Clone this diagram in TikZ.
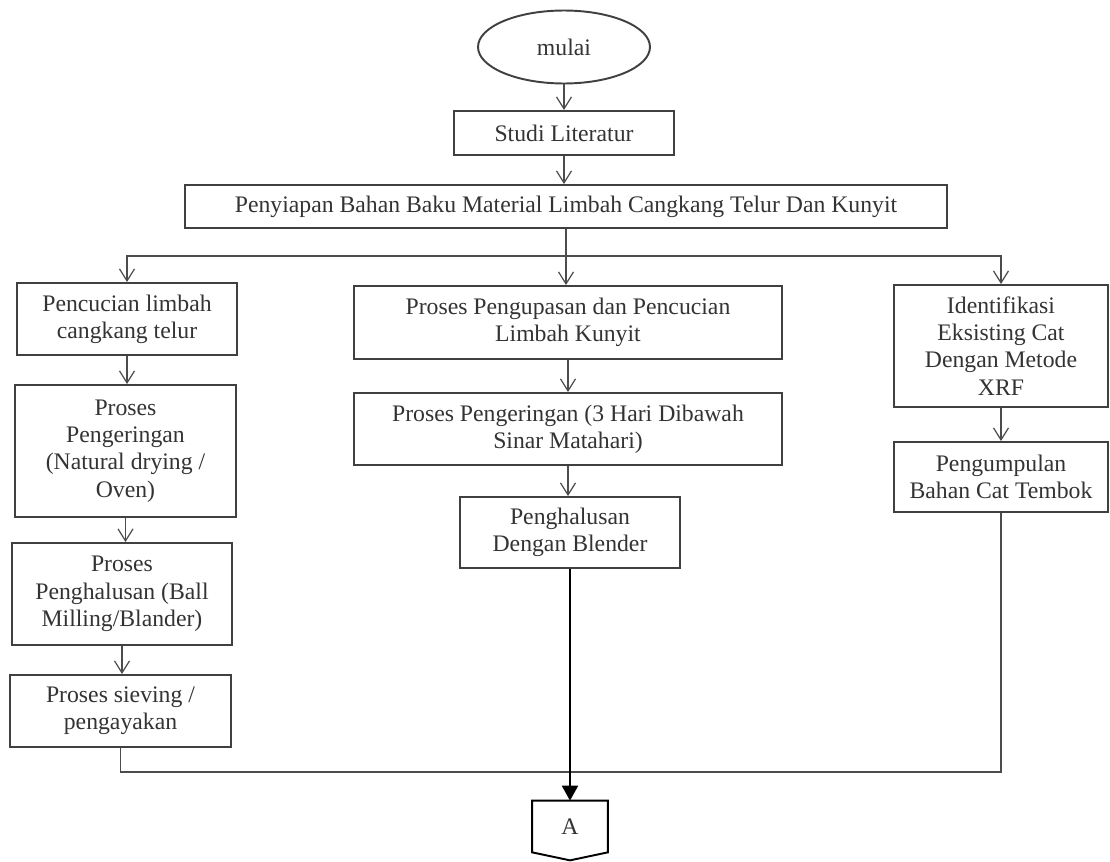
\documentclass[tikz,border=0pt]{standalone}
\usepackage{fontspec}
\setmainfont{Liberation Serif}
\usepackage{tikz}
\usetikzlibrary{arrows.meta,shapes.geometric,calc}

\begin{document}
\begin{tikzpicture}[x=0.02cm,y=-0.02cm,
  font=\fontsize{13.5}{15.5}\selectfont,text=black!80,
  box/.style={draw=black!75,line width=1.1pt,align=center,inner sep=2pt},
  flow/.style={draw=black!70,line width=0.7pt,-{Straight Barb[length=0.24cm,width=0.3cm]}},
  link/.style={draw=black!70,line width=0.9pt},
  main/.style={draw=black,line width=1.2pt,-{Triangle[length=0.3cm,width=0.32cm]}}]
\useasboundingbox (0,0) rectangle (1110,862);
\node[box,ellipse,minimum width=3.44cm,minimum height=1.46cm] (start) at (564,47) {mulai};
\node[box,minimum width=4.4cm,minimum height=0.88cm] (studi) at (564,133) {Studi Literatur};
\node[box,minimum width=15.24cm,minimum height=0.86cm] (siap) at (566,206.5) {Penyiapan Bahan Baku Material Limbah Cangkang Telur Dan Kunyit};
\node[box,minimum width=4.4cm,minimum height=1.44cm] (cuci) at (127,319) {Pencucian limbah\\ cangkang telur};
\node[box,minimum width=4.42cm,minimum height=2.64cm] (kering) at (125.5,451) {Proses\\ Pengeringan\\ (Natural drying /\\ Oven)};
\node[box,minimum width=4.4cm,minimum height=2.04cm] (halus) at (122,594) {Proses\\ Penghalusan (Ball\\ Milling/Blander)};
\node[box,minimum width=4.42cm,minimum height=1.44cm] (ayak) at (120.5,711) {Proses sieving /\\ pengayakan};
\node[box,minimum width=8.56cm,minimum height=1.46cm] (kupas) at (568,322.5) {Proses Pengupasan dan Pencucian\\ Limbah Kunyit};
\node[box,minimum width=8.56cm,minimum height=1.44cm] (jemur) at (568,429) {Proses Pengeringan (3 Hari Dibawah\\ Sinar Matahari)};
\node[box,minimum width=4.4cm,minimum height=1.42cm] (blender) at (570,532.5) {Penghalusan\\ Dengan Blender};
\node[box,minimum width=4.28cm,minimum height=2.44cm] (xrf) at (1001,346) {Identifikasi\\ Eksisting Cat\\ Dengan Metode\\ XRF};
\node[box,minimum width=4.28cm,minimum height=1.4cm] (kumpul) at (1001,477) {Pengumpulan\\ Bahan Cat Tembok};
\node[minimum width=1.5cm,minimum height=1.02cm,inner sep=0pt] (conA) at (570,826.5) {A};
\draw[draw=black,line width=1.1pt] (conA.north west) -- (conA.north east) -- (conA.south east)
  -- ($(conA.south)+(0,8)$) -- (conA.south west) -- cycle;
\coordinate (split) at (566,256);
\coordinate (merge) at (570,772);
\draw[flow] (start) -- (studi);
\draw[flow] (studi.south) -- (studi.south |- siap.north);
\draw[link] (siap.south) -- (split);
\draw[flow] (split) -| (cuci.north);
\draw[flow] (split) -| (xrf.north);
\draw[flow] (split) -- (split |- kupas.north);
\draw[flow] (cuci.south) -- (cuci.south |- kering.north);
\draw[flow] (kering.south) -- (kering.south |- halus.north);
\draw[flow] (halus.south) -- (halus.south |- ayak.north);
\draw[flow] (kupas.south) -- (jemur.north);
\draw[flow] (jemur.south) -- (jemur.south |- blender.north);
\draw[flow] (xrf.south) -- (kumpul.north);
\draw[link] (ayak.south) |- (merge) -| (kumpul.south);
\draw[main] (blender.south) -- (conA.north);
\end{tikzpicture}
\end{document}
